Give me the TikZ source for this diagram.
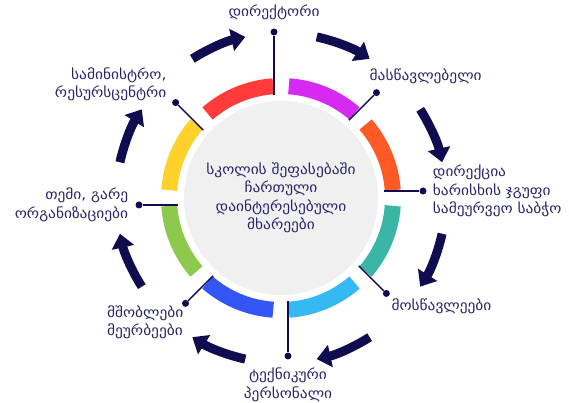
\documentclass[tikz,border=0pt]{standalone}
\usepackage{fontspec}
\setmainfont[FakeStretch=1.1]{DejaVu Sans}
\usetikzlibrary{arrows.meta,positioning,calc}
\definecolor{navy}{HTML}{0F0D50}
\definecolor{ink}{HTML}{26256A}
\definecolor{core}{HTML}{F0F0F0}
\definecolor{segR}{HTML}{FF3B3B}
\definecolor{segM}{HTML}{D62AF2}
\definecolor{segO}{HTML}{FF5A26}
\definecolor{segT}{HTML}{3AB5A6}
\definecolor{segC}{HTML}{35B9F2}
\definecolor{segB}{HTML}{3355F5}
\definecolor{segG}{HTML}{8DC94C}
\definecolor{segY}{HTML}{FFD12B}
\tikzset{
  >=Stealth,
}

\begin{document}
\begin{tikzpicture}[
  x=1pt,y=1pt,
  seg/.style={line width=16pt},
  flow/.style={navy, line width=9pt, -{Triangle[width=22pt,length=14pt]}},
  lead/.style={navy, line width=1.5pt},
  dot/.style={circle, fill=navy, inner sep=0pt, minimum size=7pt},
  lbl/.style={text=ink, font=\fontsize{14}{18.5}\selectfont, align=center, inner sep=0pt}
]
\useasboundingbox (-281,-205) rectangle (288,198);
\node[circle, fill=core, minimum size=194pt, inner sep=0pt] (core) at (0,0) {};
\foreach \a/\c in {90/segM, 45/segO, 0/segT, -45/segC, -90/segB, -135/segG, 180/segY, 135/segR}
  \draw[seg, \c] (\a-4:112) arc[start angle=\a-4, end angle=\a-41, radius=112];
\foreach \a in {112.5,67.5,22.5,-22.5,-67.5,-112.5,-157.5,157.5}
  \draw[flow] (\a+10:165) arc[start angle=\a+10, end angle=\a-10, radius=165];
\foreach \a/\r/\n in {90/166/t, 45/142/tr, 0/142/r, -45/142/br, -90/158/b, -135/142/bl, 180/142/l, 135/142/tl}
{
  \coordinate (s-\n) at ($(\a:103)+(\a+90:7)$);
  \node[dot] (d-\n) at ($(\a:\r)+(\a+90:7)$) {};
  \draw[lead] (s-\n) -- (d-\n);
}
\node[lbl] (title) at (core) {სკოლის შეფასებაში\\ჩართული\\დაინტერესებული\\მხარეები};
\node[lbl, above=8pt of d-t] (l-t) {დირექტორი};
\node[lbl, anchor=west] (l-tr) at (d-tr) [xshift=-7pt, yshift=16pt] {მასწავლებელი};
\node[lbl, align=left, right=6pt of d-r] (l-r) {დირექცია\\ხარისხის ჯგუფი\\სამეურვეო საბჭო};
\node[lbl, anchor=west] (l-br) at (d-br) [xshift=5pt, yshift=-13pt] {მოსწავლეები};
\node[lbl, below=8pt of d-b] (l-b) {ტექნიკური\\პერსონალი};
\node[lbl, align=left, anchor=north east] (l-bl) at (d-bl) [xshift=-2pt, yshift=-2pt] {მშობლები\\მეურბეები};
\node[lbl, align=right, left=7pt of d-l] (l-l) {თემი, გარე\\ორგანიზაციები};
\node[lbl, align=right, anchor=east] (l-tl) at (d-tl) [xshift=-9pt, yshift=18pt] {სამინისტრო,\\რესურსცენტრი};
\end{tikzpicture}
\end{document}
